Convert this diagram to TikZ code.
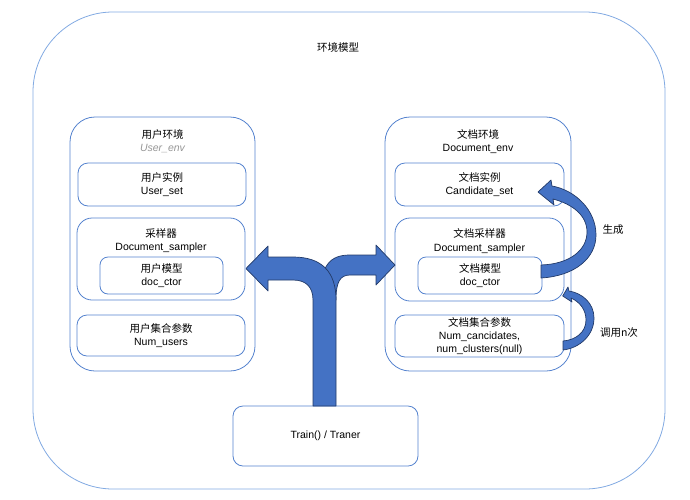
\documentclass[tikz,border=0pt]{standalone}
\usepackage{fontspec}
\setmainfont{Liberation Sans}
\newfontfamily\cjk{Noto Sans CJK SC}
\usetikzlibrary{calc}
\definecolor{lineblue}{RGB}{84,130,206}
\definecolor{outerblue}{RGB}{130,170,226}
\definecolor{arrowfill}{RGB}{68,114,196}
\definecolor{arrowedge}{RGB}{34,58,104}
\definecolor{subgray}{RGB}{150,150,150}
\tikzset{
	envbox/.style={draw=lineblue, line width=0.8pt, rounded corners=25pt, inner sep=0pt},
	itembox/.style={draw=lineblue, line width=0.8pt, rounded corners=10pt, inner sep=0pt, align=center},
	boxtext/.style={align=center, inner sep=0pt},
	blockarrow/.style={fill=arrowfill, draw=arrowedge, line width=0.7pt, line join=round}
}

\begin{document}
\begin{tikzpicture}[x=1pt, y=-1pt, font=\fontsize{10.5}{13.3}\selectfont]
			\useasboundingbox (0,0) rectangle (690,499);

			% Outer frame and its title
			\node[draw=outerblue, line width=0.8pt, rounded corners=80pt, minimum width=632pt, minimum height=477pt] (world) at (349,250.5) {};
			\node[boxtext] (worldtitle) at (338,47) {\cjk 环境模型};

			% User environment
			\node[envbox, minimum width=185pt, minimum height=254pt] (lenv) at (162.5,244) {};
			\node[boxtext] (lenvtitle) at (162.5,141.5) {{\cjk 用户环境}\\\textcolor{subgray}{\itshape User\_env}};
			\node[itembox, minimum width=168pt, minimum height=43pt] (luser) at (162,184.5) {{\cjk 用户实例}\\User\_set};
			\node[itembox, rounded corners=15pt, minimum width=168pt, minimum height=82pt] (lsamp) at (161,259) {};
			\node[boxtext] (lsamptitle) at (161,241) {{\cjk 采样器}\\Document\_sampler};
			\node[itembox, rounded corners=8pt, minimum width=123pt, minimum height=37pt] (lmodel) at (161.5,275.5) {{\cjk 用户模型}\\doc\_ctor};
			\node[itembox, minimum width=168pt, minimum height=41pt] (lparam) at (161,335.5) {{\cjk 用户集合参数}\\Num\_users};

			% Document environment
			\node[envbox, minimum width=186pt, minimum height=254pt] (renv) at (478,244) {};
			\node[boxtext] (renvtitle) at (478,141.5) {{\cjk 文档环境}\\Document\_env};
			\node[itembox, minimum width=169pt, minimum height=43pt] (rcand) at (479.5,184.5) {{\cjk 文档实例}\\Candidate\_set};
			\node[itembox, rounded corners=15pt, minimum width=169pt, minimum height=83pt] (rsamp) at (479.5,259.5) {};
			\node[boxtext] (rsamptitle) at (479.5,241) {{\cjk 文档采样器}\\Document\_sampler};
			\node[itembox, rounded corners=8pt, minimum width=124pt, minimum height=37pt] (rmodel) at (480,275.5) {{\cjk 文档模型}\\doc\_ctor};
			\node[itembox, minimum width=169pt, minimum height=42pt] (rparam) at (479.5,336) {{\cjk 文档集合参数}\\Num\_cancidates,\\num\_clusters(null)};

			% Trainer
			\node[itembox, minimum width=185pt, minimum height=60pt] (train) at (325.5,436) {Train() / Traner};

			% Split arrow from the trainer to both environments
			\draw[blockarrow] (320,300) .. controls (320,265) and (330,255) .. (350,255) -- (376,255) -- (376,245) -- (395,265) -- (376,285) -- (376,275) -- (350,275) .. controls (340,275) and (336,282) .. (336,300) -- cycle;
			\draw[blockarrow] (313,406) -- (313,300) .. controls (313,287) and (306,280) .. (293,280) -- (268,280) -- (268,291) -- (246,268.5) -- (268,246) -- (268,257) -- (293,257) .. controls (322,257) and (336,272) .. (336,300) -- (336,406) -- cycle;

			% Curved arrow: doc_ctor generates Candidate_set
			\draw[blockarrow] (541,278) .. controls (575,276) and (596,258) .. (596,235) .. controls (596,210) and (575,190) .. (552,186) -- (551,180) -- (538,192) -- (554,205) -- (553,199) .. controls (572,204) and (587,215) .. (587,232) .. controls (587,250) and (570,264) .. (541,265) -- cycle;
			\node[boxtext] (genlabel) at (613,230) {\cjk 生成};

			% Curved arrow: parameters call the sampler n times
			\draw[blockarrow] (563,350) .. controls (580,348) and (594,335) .. (594,318) .. controls (594,303) and (582,293) .. (569,291) -- (568,287) -- (562.7,296) -- (572,302) -- (571,298) .. controls (580,302) and (586,310) .. (586,320) .. controls (586,332) and (576,340) .. (563,341) -- cycle;
			\node[boxtext] (calllabel) at (619,333) {\cjk 调用n次};

		\end{tikzpicture}
\end{document}
